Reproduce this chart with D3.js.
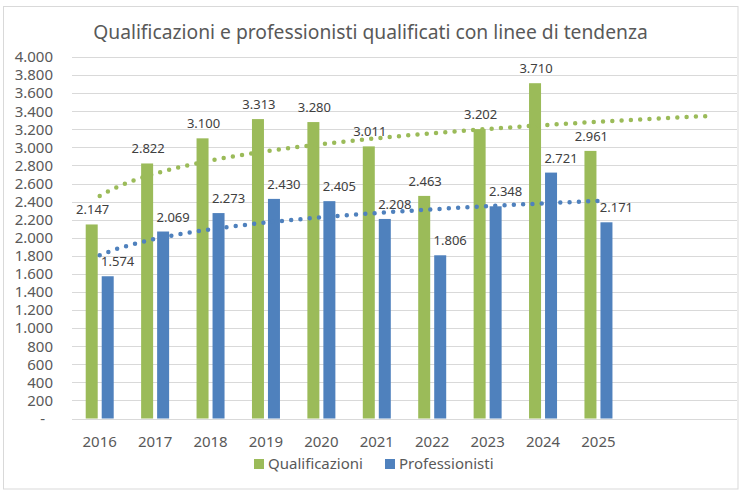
<!DOCTYPE html>
<html><head><meta charset="utf-8">
<script src="https://cdn.jsdelivr.net/npm/d3@7"></script>
<style>body{margin:0;background:#fff;} text{font-family:"Noto Sans",sans-serif;}</style>
</head><body>
<svg id="c" width="745" height="500"></svg>
<script>
const years = ["2016","2017","2018","2019","2020","2021","2022","2023","2024","2025"];
const forecastSlots = ["2026","2027"];
const qualificazioni = [2147,2822,3100,3313,3280,3011,2463,3202,3710,2961];
const professionisti = [1574,2069,2273,2430,2405,2208,1806,2348,2721,2171];
const yTicks = [0,200,400,600,800,1000,1200,1400,1600,1800,2000,2200,2400,2600,2800,3000,3200,3400,3600,3800,4000];
const seriesNames = ["Qualificazioni","Professionisti"];
const colors = ["#9BBB59","#4F81BD"];
const titleText = "Qualificazioni e professionisti qualificati con linee di tendenza";

const svg = d3.select("#c");
const L = 72, R = 737, T = 57, B = 418.5;
const fmt = v => v === 0 ? "-" : d3.format(",")(v).replace(/,/g, ".");

svg.append("rect").attr("x",3.5).attr("y",6.5).attr("width",734.5).attr("height",482.5)
  .attr("fill","#fff").attr("stroke","#D9D9D9").attr("stroke-width",1);

const x = d3.scaleBand().domain(years.concat(forecastSlots)).range([L,R]).padding(0);
const y = d3.scaleLinear().domain([0,4000]).range([B,T]);
const bw = x.bandwidth();
const xc = t => L + (t - 0.5) * bw; // continuous period index -> pixel

// gridlines
svg.append("g").selectAll("line").data(yTicks).join("line")
  .attr("x1",L).attr("x2",R).attr("y1",d=>Math.round(y(d))+0.5).attr("y2",d=>Math.round(y(d))+0.5)
  .attr("stroke","#D9D9D9").attr("stroke-width",1);

// y axis labels
const yAxis = svg.append("g").attr("transform",`translate(${L-19},0)`)
  .call(d3.axisLeft(y).tickValues(yTicks).tickFormat(fmt).tickSize(0).tickPadding(0));
yAxis.select(".domain").remove();
yAxis.selectAll("text").attr("font-size",15).attr("fill","#595959").attr("font-family","Noto Sans")
  .attr("x", d => d === 0 ? -8 : 0);

// bars
const groups = svg.append("g").selectAll("g").data(years).join("g");
const off = [-14, 2];
[qualificazioni, professionisti].forEach((vals, si) => {
  svg.append("g").selectAll("rect").data(years).join("rect")
    .attr("x", (d,i) => x(d) + bw/2 + off[si])
    .attr("width", 12)
    .attr("y", (d,i) => y(vals[i]))
    .attr("height", (d,i) => B - y(vals[i]))
    .attr("fill", colors[si]);
});

// trend lines (logarithmic least squares fit, Excel-style)
function logFit(vals){
  const xs = vals.map((v,i)=>Math.log(i+1));
  const mx = d3.mean(xs), my = d3.mean(vals);
  let sxy=0, sxx=0;
  xs.forEach((lx,i)=>{sxy+=(lx-mx)*(vals[i]-my); sxx+=(lx-mx)*(lx-mx);});
  const b = sxy/sxx; return {a: my - b*mx, b};
}
const trends = [
  {vals: qualificazioni, end: years.length + forecastSlots.length, color: colors[0]},
  {vals: professionisti, end: years.length, color: colors[1]}
];
const line = d3.line().x(d=>xc(d[0])).y(d=>y(d[1])).curve(d3.curveLinear);
trends.forEach(tr => {
  const f = logFit(tr.vals);
  const pts = d3.range(1, tr.end + 0.0001, 0.05).map(t => [t, f.a + f.b*Math.log(t)]);
  svg.append("path").attr("d", line(pts)).attr("fill","none")
    .attr("stroke", tr.color).attr("stroke-width",4.5).attr("stroke-linecap","round")
    .attr("stroke-dasharray","0 9.3");
});

// data labels
const ldx = [1, 10];
[qualificazioni, professionisti].forEach((vals, si) => {
  svg.append("g").selectAll("text").data(years).join("text")
    .attr("x", (d,i) => x(d) + bw/2 + off[si] + 6 + ldx[si])
    .attr("y", (d,i) => y(vals[i]) - 10)
    .attr("text-anchor","middle").attr("font-size",13).attr("fill","#404040")
    .text((d,i)=>fmt(vals[i]));
});

// x labels
svg.append("g").selectAll("text").data(years).join("text")
  .attr("x", d => x(d) + bw/2).attr("y", 447)
  .attr("text-anchor","middle").attr("font-size",15).attr("fill","#595959").text(d=>d);

// legend
const leg = [{x:254, name: seriesNames[0], c: colors[0]}, {x:385, name: seriesNames[1], c: colors[1]}];
leg.forEach(l => {
  svg.append("rect").attr("x", l.x).attr("y", 459).attr("width",10).attr("height",10).attr("fill", l.c);
  svg.append("text").attr("x", l.x + 14).attr("y", 469).attr("font-size",15).attr("fill","#595959").text(l.name);
});

// title
const title = svg.append("text").attr("x", 370.5).attr("y", 39).attr("text-anchor","middle")
  .attr("font-family","Open Sans").attr("font-size",19).attr("fill","#595959").text(titleText);
const w = title.node().getComputedTextLength();
title.attr("font-size", 19 * 555 / w);
</script>
</body></html>
